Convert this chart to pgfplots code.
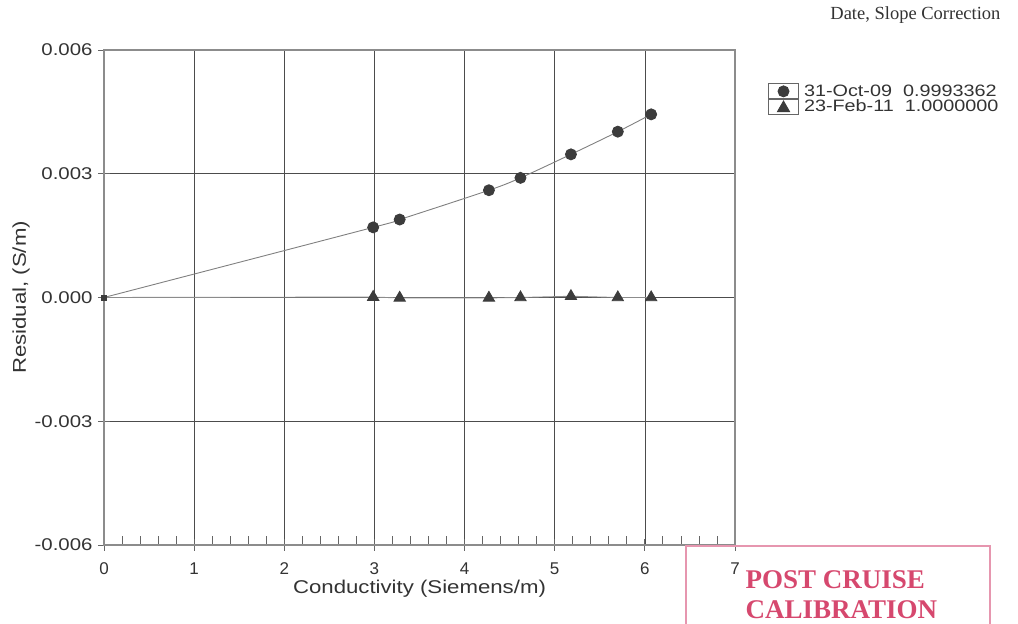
\documentclass[border=0pt]{standalone}
\usepackage{pgfplots}
\pgfplotsset{compat=1.18}
\usepackage{fontspec}
\setmainfont{Liberation Sans}[FakeStretch=1.2]
\newfontfamily\sansn{Liberation Sans}
\newfontfamily\serif{Liberation Serif}
\newfontfamily\serifb{Liberation Serif Bold}
\definecolor{stamp}{RGB}{214,72,110}
\definecolor{stampbox}{RGB}{230,150,175}
\definecolor{mk}{RGB}{60,60,60}
\begin{document}
\begin{tikzpicture}[x=1pt,y=1pt]
\path[use as bounding box] (0,0) rectangle (1018,624);
\begin{axis}[
  at={(104pt,79pt)}, anchor=south west,
  scale only axis, width=631pt, height=495pt,
  xmin=0, xmax=7, ymin=-0.006, ymax=0.006,
  xtick={0,1,...,7},
  ytick={-0.006,-0.003,0,0.003,0.006},
  scaled y ticks=false,
  yticklabels={\mbox{-0.006},\mbox{-0.003},\mbox{0.000},\mbox{0.003},\mbox{0.006}},
  xticklabels={\mbox{0},\mbox{1},\mbox{2},\mbox{3},\mbox{4},\mbox{5},\mbox{6},\mbox{7}},
  minor x tick num=4,
  grid=major,
  major grid style={black!70, line width=0.7pt},
  axis line style={black!45, line width=1.2pt},
  tick pos=left,
  tick align=center,
  major tick length=12pt,
  minor tick length=9pt,
  major tick style={black!60, line width=0.8pt},
  minor x tick style={yshift=4.5pt, black!60, line width=0.8pt},
  tick label style={font=\fontsize{17}{17}\selectfont, text=black!80},
  xticklabel style={yshift=-8pt, font=\sansn\fontsize{17}{17}\selectfont},
  yticklabel style={xshift=-2pt},
  xlabel={Conductivity (Siemens/m)},
  ylabel={Residual, (S/m)},
  label style={font=\fontsize{18.5}{18.5}\selectfont, text=black!80},
  xlabel style={yshift=1pt},
  ylabel style={yshift=-2pt},
  legend style={at={(rel axis cs:1.052,0.934)}, anchor=north west, draw=none, fill=none,
    font=\fontsize{16.5}{16.5}\selectfont, text=black!80, row sep=-2pt, inner sep=0pt,
    nodes={inner xsep=5pt}},
  legend cell align=left,
  clip=false,
]
\addplot[black!50, line width=0.9pt, smooth, mark=*, mark size=5.5pt,
  mark options={fill=mk, draw=mk}, mark indices={2,3,4,5,6,7,8},
  legend image code/.code={
    \draw[black!60, line width=1pt] (0pt,-7.5pt) rectangle (30pt,7.5pt);
    \fill[mk] (15pt,0pt) circle (5.5pt);}]
  coordinates {(0,0) (2.986,0.00170) (3.28,0.00189) (4.27,0.00260) (4.62,0.00290) (5.18,0.00347) (5.70,0.00402) (6.07,0.00444)};
\addlegendentry{31-Oct-09\ \ 0.9993362}
\addplot[black!45, line width=0.9pt, mark=triangle*, mark size=6.5pt,
  mark options={fill=mk, draw=mk}, mark indices={2,3,4,5,6,7,8},
  legend image code/.code={
    \draw[black!60, line width=1pt] (0pt,-7.5pt) rectangle (30pt,7.5pt);
    \fill[mk] (15pt,5.5pt) -- (21pt,-5pt) -- (9pt,-5pt) -- cycle;}]
  coordinates {(0,0) (2.986,0.00001) (3.28,-0.00001) (4.27,-0.00001) (4.62,0.0) (5.18,0.00003) (5.70,0.0) (6.07,0.0)};
\addlegendentry{23-Feb-11\ \ 1.0000000}
\addplot[only marks, mark=square*, mark size=2.5pt, mark options={fill=mk, draw=mk}, forget plot]
  coordinates {(0,0)};
\end{axis}
\node[anchor=east, font=\serif\fontsize{18.5}{18.5}\selectfont, text=black!80] at (1004,609) {Date, Slope Correction};
\draw[stampbox, line width=2pt] (686,-10) -- (686,78) -- (990,78) -- (990,-10);
\node[anchor=west, font=\serifb\fontsize{27}{27}\selectfont, text=stamp] at (742,44) {POST CRUISE};
\node[anchor=west, font=\serifb\fontsize{27}{27}\selectfont, text=stamp] at (742,14) {CALIBRATION};
\end{tikzpicture}
\end{document}
